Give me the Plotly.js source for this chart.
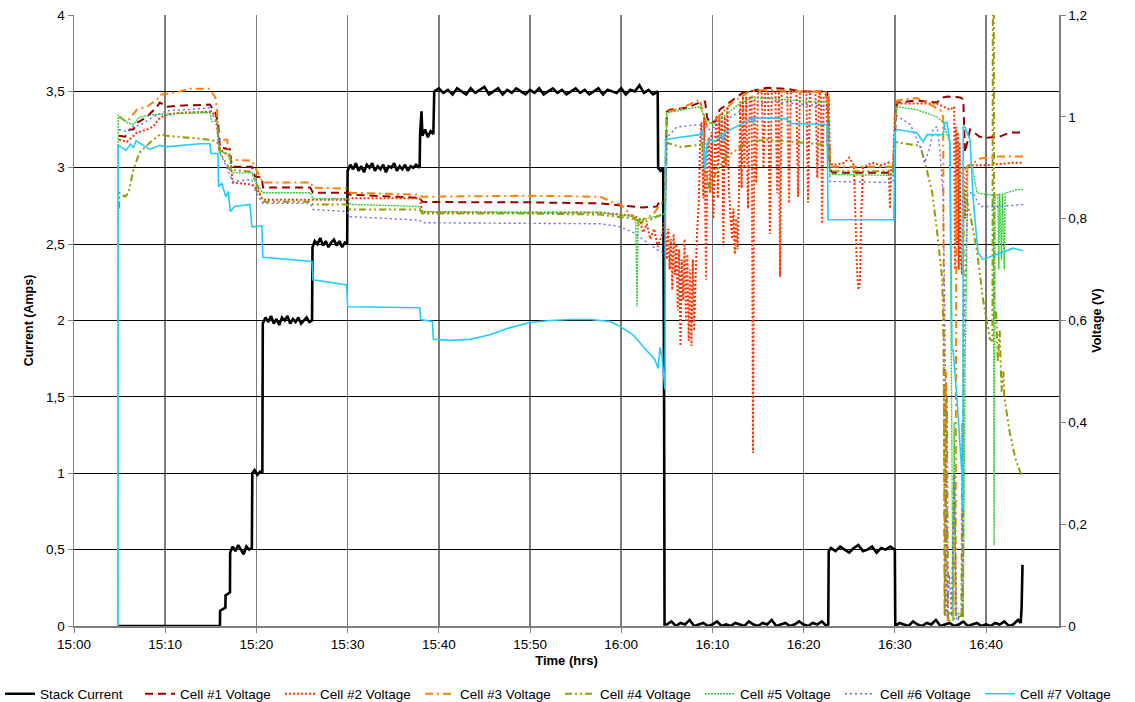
<!DOCTYPE html>
<html><head><meta charset="utf-8">
<script src="https://cdn.plot.ly/plotly-3.0.1.min.js"></script>
<style>html,body{margin:0;padding:0;background:#fff}#chart{width:1135px;height:702px}</style>
</head><body><div id="chart"></div>
<script>
// time is minutes after 15:00
const tickVals = [0,10,20,30,40,50,60,70,80,90,100];
const tickLabels = ['15:00','15:10','15:20','15:30','15:40','15:50','16:00','16:10','16:20','16:30','16:40'];
const seriesNames = ['Stack Current','Cell #1 Voltage','Cell #2 Voltage','Cell #3 Voltage','Cell #4 Voltage','Cell #5 Voltage','Cell #6 Voltage','Cell #7 Voltage'];

const currentT = [4.82,16.0,16.02,16.6,16.62,17.1,17.12,17.4,17.7,18.0,18.3,18.6,18.9,19.2,19.5,
 19.55,19.8,20.1,20.4,20.65,
 20.7,21.0,21.3,21.6,21.9,22.2,22.5,22.8,23.1,23.4,23.7,24.0,24.3,24.6,24.9,25.2,25.5,25.8,26.1,
 26.15,26.4,26.7,27.0,27.3,27.6,27.9,28.2,28.5,28.8,29.1,29.4,29.7,29.95,
 30.0,30.3,30.6,30.9,31.2,31.5,31.8,32.1,32.4,32.7,33.0,33.3,33.6,33.9,34.2,34.5,34.8,35.1,35.4,35.7,36.0,36.3,36.6,36.9,37.2,37.5,37.9,
 37.95,38.1,38.2,38.5,38.8,39.1,39.4,
 39.5,40.0,40.5,41.0,41.5,42.0,42.5,43.0,43.5,44.0,44.5,45.0,45.5,46.0,46.5,47.0,47.5,48.0,48.5,49.0,49.5,50.0,50.5,51.0,51.5,52.0,52.5,53.0,53.5,54.0,54.5,55.0,55.5,56.0,56.5,57.0,57.5,58.0,58.5,59.0,59.5,60.0,60.5,61.0,61.5,62.0,62.5,63.0,63.5,64.0,
 64.05,64.3,64.6,64.7,64.75,
 65.0,65.5,66.0,66.5,67.0,67.5,68.0,68.5,69.0,69.5,70.0,70.5,71.0,71.5,72.0,72.5,73.0,73.5,74.0,74.5,75.0,75.5,76.0,76.5,77.0,77.5,78.0,78.5,79.0,79.5,80.0,80.5,81.0,81.5,82.0,82.5,82.7,
 82.75,83.0,83.5,84.0,84.5,85.0,85.5,86.0,86.5,87.0,87.5,88.0,88.5,89.0,89.5,90.0,
 90.05,90.5,91.0,91.5,92.0,92.5,93.0,93.5,94.0,94.5,95.0,95.5,96.0,96.5,97.0,97.5,98.0,98.5,99.0,99.5,100.0,100.5,101.0,101.5,102.0,102.5,103.0,103.5,103.8,103.9,104.0];
const currentA = [0,0,0.1,0.12,0.2,0.22,0.48,0.52,0.49,0.53,0.50,0.47,0.52,0.50,0.51,
 1.0,1.02,0.99,1.01,1.0,
 1.98,2.02,1.99,2.03,1.98,2.01,1.97,2.02,2.0,2.03,1.98,2.01,1.99,2.02,1.98,2.0,2.02,1.99,2.0,
 2.48,2.52,2.5,2.54,2.49,2.52,2.48,2.51,2.53,2.49,2.52,2.48,2.51,2.5,
 2.98,3.02,2.99,3.03,2.98,3.01,2.97,3.02,3.0,3.03,2.98,3.01,2.99,3.02,2.97,3.01,3.0,3.03,2.98,3.01,2.99,3.02,2.98,3.01,3.0,3.02,3.0,
 3.22,3.37,3.21,3.25,3.2,3.24,3.22,
 3.5,3.52,3.49,3.51,3.48,3.52,3.50,3.48,3.52,3.49,3.51,3.53,3.48,3.50,3.52,3.48,3.51,3.49,3.52,3.50,3.48,3.51,3.49,3.52,3.48,3.50,3.52,3.49,3.51,3.48,3.50,3.52,3.49,3.51,3.48,3.50,3.52,3.48,3.51,3.50,3.49,3.52,3.48,3.51,3.50,3.54,3.49,3.51,3.48,3.50,
 3.0,2.98,3.0,1.5,0.01,
 0.01,0.03,0.0,0.02,0.01,0.04,0.0,0.01,0.02,0.0,0.01,0.03,0.0,0.01,0.0,0.02,0.01,0.0,0.03,0.01,0.0,0.02,0.01,0.04,0.0,0.01,0.02,0.0,0.01,0.03,0.01,0.0,0.02,0.01,0.03,0.0,0.01,
 0.49,0.51,0.49,0.52,0.50,0.48,0.51,0.53,0.49,0.50,0.52,0.48,0.51,0.50,0.52,0.5,
 0.0,0.02,0.01,0.0,0.03,0.01,0.0,0.02,0.01,0.04,0.0,0.01,0.02,0.0,0.01,0.03,0.0,0.01,0.02,0.0,0.01,0.0,0.02,0.01,0.03,0.0,0.01,0.04,0.02,0.12,0.40];

const cell1T = [4.93,5.6,6.1,6.5,7.0,8.0,9.1,9.4,10.2,11.6,14.9,15.5,15.8,16.0,17.1,17.3,19.5,19.85,20.6,20.72,25.9,26.2,29.9,30.3,37.9,38.2,45,50,57.7,59.9,62.4,63.9,64.25,64.8,
 65.0,65.35,67.2,68.6,69.2,69.4,69.7,70.3,70.8,72.3,73.4,74.4,76.0,78.2,79.6,82.6,82.9,83.2,89.8,90.1,90.24,92.4,94.6,95.3,95.8,97.2,97.5,97.7,98.25,99.3,100.1,101.5,102.6,104.1];
const cell1V = [0.963,0.961,0.975,0.975,0.989,1.0,1.02,1.028,1.02,1.022,1.024,1.008,0.989,0.940,0.936,0.902,0.902,0.883,0.881,0.861,0.861,0.851,0.851,0.847,0.841,0.833,0.832,0.832,0.830,0.826,0.822,0.824,0.835,0.835,
 1.010,1.014,1.018,1.028,1.030,1.0,0.989,0.991,1.014,1.034,1.048,1.051,1.057,1.055,1.050,1.050,0.896,0.89,0.89,1.0,1.028,1.032,1.028,1.038,1.040,1.038,1.034,0.93,0.975,0.961,0.959,0.961,0.969,0.969];

const cell2T = [4.93,5.8,6.9,8.0,8.7,9.4,10.2,11.6,14.9,15.5,16.0,17.1,17.4,19.5,20.1,20.7,25.9,26.2,29.9,30.3,37.9,38.2,50,57.7,61.3,62.0,62.4,62.8,63.2,63.6,64.0,64.5,64.8,
 65.0,65.15,65.3,65.45,65.6,65.75,65.9,66.05,66.2,66.35,66.5,66.65,66.8,66.95,67.1,67.25,67.4,67.55,67.7,67.85,68.0,68.15,68.3,68.5,68.65,68.8,69.0,69.1,69.3,69.45,69.6,69.75,69.9,70.1,70.3,70.45,70.6,70.75,70.9,71.05,71.2,71.35,71.5,71.65,71.8,72.0,72.15,72.3,72.45,72.6,72.75,72.9,73.05,73.2,73.35,73.5,73.7,73.9,74.1,74.3,74.45,74.6,74.8,75.0,75.4,75.6,75.8,76.1,76.3,76.5,76.9,77.1,77.3,77.41,77.6,78.2,78.4,78.6,79.2,79.39,79.6,80.3,80.48,80.7,81.3,81.5,81.7,81.9,82.02,82.2,82.5,82.6,82.75,82.9,
 83.2,84.5,85.0,85.5,85.7,85.85,86.0,86.18,86.3,86.5,87.5,88.5,89.3,89.47,89.6,89.8,90.0,90.24,92.4,94.6,95.3,96.05,96.5,96.6,96.7,96.8,96.9,97.0,97.1,97.2,97.37,97.5,97.7,97.9,100,103,104.1];
const cell2V = [0.955,0.951,0.969,0.975,0.981,0.998,1.004,1.008,1.010,1.004,0.936,0.922,0.871,0.867,0.857,0.837,0.837,0.837,0.837,0.840,0.840,0.812,0.812,0.812,0.806,0.80,0.773,0.79,0.76,0.78,0.745,0.77,0.80,
 0.72,0.78,0.70,0.76,0.66,0.77,0.69,0.75,0.62,0.74,0.55,0.72,0.64,0.76,0.60,0.73,0.56,0.70,0.55,0.72,0.58,0.68,0.77,0.83,0.95,0.99,0.84,1.0,0.68,0.93,0.96,0.85,0.97,0.80,0.95,1.0,0.84,1.0,0.92,1.01,0.75,1.0,0.90,1.02,0.86,0.80,0.76,0.82,0.73,0.80,0.74,0.84,1.03,0.86,1.04,0.90,1.04,0.82,1.04,1.04,0.34,1.04,0.87,1.05,1.05,0.90,1.05,1.05,0.77,1.05,1.05,0.85,1.05,0.686,1.05,1.05,0.83,1.05,1.05,0.843,1.05,1.05,0.832,1.05,1.05,0.88,1.05,1.04,0.79,1.04,1.045,0.95,1.04,0.91,
 0.905,0.91,0.92,0.905,0.78,0.70,0.66,0.68,0.80,0.90,0.91,0.905,0.91,0.82,0.90,0.905,1.0,1.026,1.026,1.026,1.02,1.014,1.02,0.70,0.98,0.75,0.97,0.70,0.95,0.73,0.69,0.90,0.80,0.905,0.905,0.91,0.91];

const cell3T = [4.93,5.8,6.9,8.0,9.1,9.4,11.6,12.7,14.9,15.5,15.7,15.8,16.8,16.9,17.1,19.5,20.1,20.7,26.0,26.2,29.9,30.3,37.9,38.2,50,57.7,59.1,59.9,61.3,61.7,62.06,62.5,63.5,64.25,64.8,
 65.0,66.5,68.6,69.4,70.1,72.3,74.1,76.0,79.6,82.6,82.9,89.8,90.1,90.24,92.4,94.96,95.3,95.45,95.6,95.8,96.0,96.3,96.5,96.65,96.75,97.92,99.34,101.5,104.1];
const cell3V = [1.0,0.99,1.014,1.020,1.034,1.043,1.050,1.055,1.055,1.038,1.01,0.955,0.955,0.941,0.916,0.914,0.893,0.871,0.871,0.861,0.859,0.851,0.847,0.843,0.845,0.843,0.832,0.828,0.804,0.792,0.784,0.80,0.808,0.828,0.835,
 1.01,1.016,1.034,0.981,0.991,1.03,1.05,1.053,1.05,1.048,0.902,0.902,1.0,1.032,1.037,1.014,1.0,0.02,0.5,0.01,0.03,0.02,0.3,0.02,0.88,0.902,0.918,0.922,0.922];

const cell4T = [4.93,4.96,5.6,6.0,6.5,7.2,8.3,9.4,10.2,12.4,14.9,15.7,16.0,17.1,19.5,19.85,20.7,25.9,26.2,29.9,30.3,37.9,38.2,50,57.7,61.3,62.4,63.9,64.8,
 65.0,66.5,68.6,68.9,69.2,69.7,70.5,71.6,72.7,73.8,76.0,79.6,82.6,82.9,89.8,90.1,92.8,93.5,94.1,94.6,95.2,95.35,95.5,95.7,95.85,97.3,97.4,97.48,97.55,98.25,99.0,99.67,100.44,100.7,100.75,100.85,100.9,101.1,101.3,101.5,101.7,101.9,102.0,102.6,103.2,103.95];
const cell4V = [0.82,0.851,0.843,0.851,0.896,0.930,0.949,0.965,0.963,0.959,0.955,0.951,0.930,0.896,0.892,0.877,0.833,0.833,0.828,0.828,0.818,0.818,0.810,0.810,0.808,0.80,0.792,0.804,0.81,
 0.949,0.941,0.945,0.951,0.90,0.857,0.896,0.922,0.936,0.951,0.955,0.949,0.945,0.893,0.893,0.95,0.943,0.896,0.851,0.78,0.68,0.55,0.02,0.45,0.01,0.02,0.4,0.01,0.86,0.81,0.737,0.641,0.563,0.56,1.25,1.25,0.60,0.62,0.52,0.58,0.46,0.50,0.45,0.38,0.33,0.292];

const cell5T = [4.82,4.85,5.8,6.5,7.24,8.7,10.2,14.9,15.1,15.7,16.0,17.1,17.3,19.5,19.85,20.7,25.9,26.2,29.9,30.3,37.9,38.2,50,57.7,61.3,61.6,61.73,61.85,62.4,63.9,64.8,
 65.0,68.6,69.4,70.1,71.6,73.0,74.45,78.2,82.6,82.9,89.8,90.1,90.24,92.4,94.6,95.3,96.0,96.2,96.38,96.5,96.7,97.5,97.7,98.0,98.46,99.0,100.1,100.8,100.88,100.99,101.3,101.4,101.5,101.7,101.8,102.0,102.1,103.4,104.1];
const cell5V = [0,1.004,0.989,0.985,1.0,1.004,1.006,1.008,0.991,0.991,0.932,0.926,0.890,0.890,0.873,0.851,0.851,0.839,0.839,0.828,0.824,0.814,0.812,0.812,0.804,0.80,0.627,0.80,0.798,0.806,0.81,
 1.008,1.020,0.991,0.985,1.006,1.026,1.038,1.034,1.028,0.887,0.885,1.0,1.020,1.014,1.0,0.989,0.95,0.5,0.01,0.4,0.02,0.03,0.5,0.9,0.905,0.851,0.847,0.847,0.158,0.847,0.847,0.70,0.85,0.72,0.85,0.70,0.85,0.857,0.857];

const cell6T = [4.93,5.8,6.47,7.24,8.66,10.2,12.4,14.9,15.2,15.7,16.0,17.1,17.4,19.5,19.9,20.7,25.9,26.2,29.9,30.3,37.9,38.2,50,57.7,59.9,61.3,62.4,63.9,64.6,64.8,
 65.0,66.1,68.6,69.7,71.6,73.8,76.0,78.2,82.6,82.9,89.8,90.1,90.24,91.7,92.8,93.3,93.86,94.2,94.63,94.96,95.29,95.5,95.7,96.0,96.2,96.5,96.8,97.3,97.6,98.0,98.57,99.34,101.5,104.1];
const cell6V = [0.975,0.971,0.981,0.983,1.0,1.012,1.014,1.018,1.004,0.989,0.930,0.883,0.873,0.877,0.853,0.830,0.830,0.818,0.814,0.804,0.797,0.792,0.790,0.790,0.784,0.773,0.759,0.739,0.733,0.74,
 0.959,0.98,0.985,0.975,0.995,1.020,1.028,1.028,1.020,0.873,0.871,0.99,1.002,0.985,0.94,0.91,0.941,0.975,0.981,0.930,0.843,0.6,0.02,0.1,0.02,0.3,0.01,0.02,0.6,0.85,0.851,0.824,0.824,0.828];

const cell7T = [4.82,4.83,5.7,6.2,6.5,6.8,8.3,9.4,10.0,11.1,12.2,13.8,14.9,15.0,15.79,15.85,16.2,16.65,16.9,17.15,17.6,19.3,19.5,20.6,20.7,26.1,26.2,29.9,30.0,37.9,38.0,39.3,39.4,41.2,43.4,45.6,47.8,50.0,52.2,54.4,56.6,58.8,59.9,61.3,62.4,63.7,64.04,64.25,64.47,64.8,
 64.85,66.1,68.6,68.97,69.19,69.41,69.74,70.29,71.0,71.16,71.3,72.26,73.79,74.45,74.5,74.6,75.99,78.18,78.51,82.57,82.68,89.9,90.02,90.24,92.43,93.09,93.53,95.29,95.5,95.72,96.05,96.27,96.38,96.82,97.37,97.48,97.5,97.7,98.25,98.57,99.12,99.67,100.66,102.96,104.06];
const cell7V = [0,0.945,0.934,0.947,0.939,0.953,0.936,0.944,0.941,0.943,0.945,0.947,0.947,0.928,0.928,0.863,0.869,0.843,0.853,0.814,0.824,0.828,0.784,0.786,0.724,0.716,0.680,0.670,0.627,0.625,0.602,0.598,0.563,0.561,0.563,0.572,0.586,0.596,0.600,0.602,0.602,0.598,0.588,0.572,0.549,0.523,0.506,0.547,0.529,0.464,
 0.955,0.959,0.965,0.973,0.896,0.947,0.955,0.951,0.967,0.951,0.969,0.977,0.991,0.998,0.985,0.998,0.998,0.996,0.987,0.985,0.798,0.798,0.970,0.975,0.969,0.951,0.965,0.965,0.989,0.989,0.95,0.54,0.543,0.445,0.294,0.229,0.981,0.979,0.955,0.843,0.733,0.720,0.726,0.742,0.737];

const colors = ['#000000','#990000','#ff3300','#ff8000','#999900','#33cc33','#6666ff','#22ccff'];
const dashes = ['solid','8px,5px','2px,2px','8px,4px,2px,4px','7px,3px,2px,3px,2px,3px','2px,1px','2px,3px','solid'];
const widths = [2.6,2,2,2,2,1.4,1.4,1.6];
// legend split into two halves so it fits in one row
const legendOf = ['legend','legend','legend','legend','legend2','legend2','legend2','legend2'];

const vData = [[cell1T,cell1V],[cell2T,cell2V],[cell3T,cell3V],[cell4T,cell4V],[cell5T,cell5V],[cell6T,cell6V],[cell7T,cell7V]];
const traces = [];
vData.forEach((d, i) => {
  traces.push({x: d[0], y: d[1], name: seriesNames[i+1], type: 'scatter', mode: 'lines', yaxis: 'y2',
    legend: legendOf[i+1], legendrank: i + 2,
    line: {color: colors[i+1], width: widths[i+1], dash: dashes[i+1]}});
});
// current drawn last (on top), but first in the legend
traces.push({x: currentT, y: currentA, name: seriesNames[0], type: 'scatter', mode: 'lines', yaxis: 'y',
  legend: legendOf[0], legendrank: 1,
  line: {color: colors[0], width: widths[0], dash: dashes[0]}});

const fam = 'Liberation Sans, Arial, sans-serif';
const legendBase = {orientation: 'h', y: -0.086, yanchor: 'top', xanchor: 'left',
  font: {family: fam, size: 13.5, color: '#000'}, traceorder: 'normal', itemwidth: 30,
  entrywidth: 95, entrywidthmode: 'pixels', bgcolor: 'rgba(0,0,0,0)'};
const layout = {
  width: 1135, height: 702,
  margin: {l: 74, r: 76, t: 15, b: 76, autoexpand: false},
  paper_bgcolor: '#fff', plot_bgcolor: '#fff',
  separators: ', ',
  font: {family: fam, size: 13, color: '#000'},
  showlegend: true,
  legend: Object.assign({}, legendBase, {x: -0.0751}),
  legend2: Object.assign({}, legendBase, {x: 0.4934}),
  xaxis: {range: [0, 108], tickmode: 'array', tickvals: tickVals, ticktext: tickLabels,
    showgrid: true, gridcolor: '#7a7a7a', gridwidth: 1.5, zeroline: false,
    showline: true, linecolor: '#808080', linewidth: 1.5, ticks: 'outside', ticklen: 5, tickcolor: '#808080',
    tickfont: {size: 13.5}, title: {text: '<b>Time (hrs)</b>', font: {size: 13}, standoff: 5}},
  yaxis: {range: [0, 4], dtick: 0.5, tick0: 0, showgrid: true, gridcolor: '#000', gridwidth: 1,
    zeroline: false, showline: true, linecolor: '#808080', linewidth: 1.5, ticks: 'outside', ticklen: 5, tickcolor: '#808080',
    tickfont: {size: 13.5}, title: {text: '<b>Current (Amps)</b>', font: {size: 12.5}, standoff: 9}},
  yaxis2: {range: [0, 1.2], dtick: 0.2, tick0: 0, overlaying: 'y', side: 'right', showgrid: false, zeroline: false,
    showline: true, linecolor: '#808080', linewidth: 1.5, ticks: 'outside', ticklen: 5, tickcolor: '#808080',
    tickfont: {size: 13.5}, title: {text: '<b>Voltage (V)</b>', font: {size: 12.5}}}
};
Plotly.newPlot('chart', traces, layout, {displayModeBar: false, staticPlot: true});
</script></body></html>
